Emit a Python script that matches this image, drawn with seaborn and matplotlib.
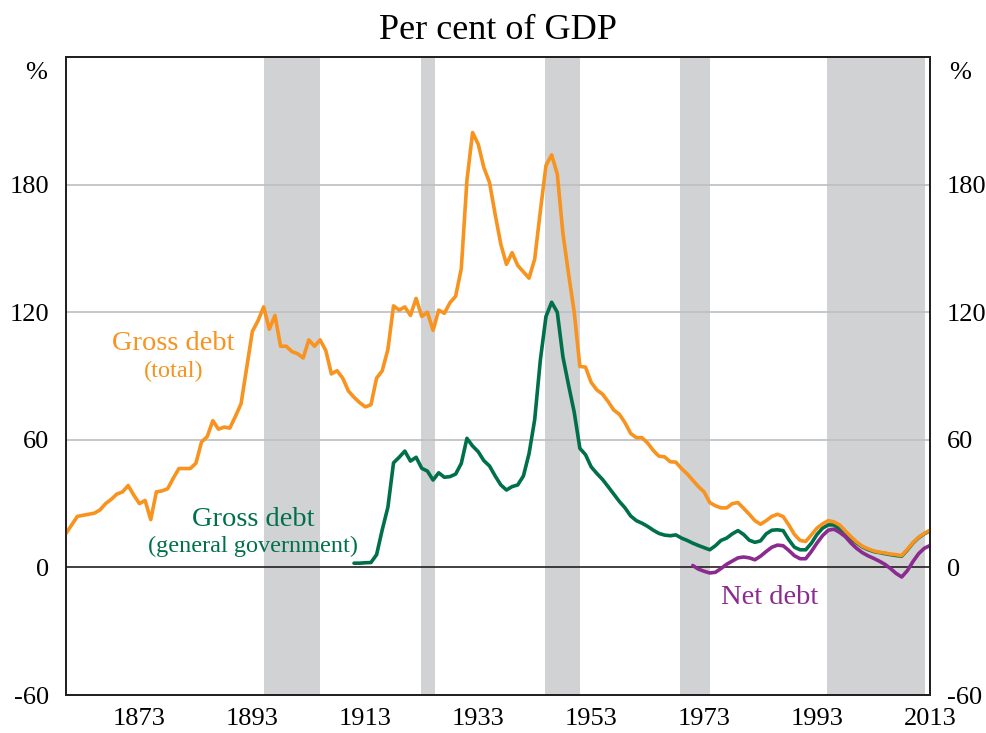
import numpy as np
import pandas as pd
import seaborn as sns
import matplotlib.pyplot as plt
from matplotlib.ticker import FixedLocator

# gross debt (total), per cent of GDP, 1860-2013
years_total = list(range(1860, 2014))
gross_total = [
    16, 20, 24, 24.5, 25, 25.5, 27, 30, 32, 34.5,
    35.5, 38.5, 34, 30, 31.5, 22.5, 35.5, 36, 37, 42,
    46.5, 46.5, 46.5, 49, 59, 61.5, 69, 65, 66, 65.5,
    71, 77, 94, 111, 116, 122.5, 112, 118.5, 104, 104,
    101.5, 100.5, 98.5, 107, 104, 107, 102, 91, 92.5, 89,
    83, 80, 77.5, 75.5, 76.5, 89, 92.5, 102.5, 123, 121,
    122.5, 118.5, 126.5, 118, 120, 111.5, 121, 119.5, 124.5, 127.5,
    140.5, 182, 204.5, 199, 188, 181, 166, 152, 142.5, 148,
    142, 139, 136, 145, 167.5, 189, 194, 185, 157, 138,
    120, 94.5, 94.2, 87, 83.5, 81.5, 78, 74, 72, 68,
    63, 61, 61, 58.5, 55, 52.3, 52, 49.7, 49.5, 46.5,
    44, 41, 38, 35.5, 30.5, 29, 28, 28, 30, 30.5,
    27.8, 25, 22, 20.3, 22, 24, 25, 23.9, 20, 15.5,
    12.7, 12.2, 15.3, 18.5, 20.5, 22, 21.4, 20, 17.2, 14.5,
    12, 10, 8.8, 7.8, 7.2, 6.8, 6.3, 6, 5.6, 8.5,
    11.7, 14.2, 16, 17.5,
]

# gross debt (general government), 1911-2013
years_gen = list(range(1911, 2014))
gross_gen = [
    2, 2, 2.2, 2.3, 6, 17.7, 28.3, 49.2, 51.8,
    54.7, 50, 51.8, 46.6, 45.3, 41.1, 44.5, 42.4, 42.7, 43.9,
    48.9, 60.7, 57.1, 54.4, 50.2, 47.7, 43, 38.8, 36.4, 38,
    38.8, 43, 53.5, 69.5, 97.5, 118, 124.7, 120, 99, 85.7,
    73, 56, 53, 47.3, 44.2, 41.4, 38, 34.5, 31, 28,
    24.2, 22, 20.8, 19.3, 17.5, 16, 15.2, 14.9, 15.3, 13.8,
    12.7, 11.4, 10.3, 9.3, 8.3, 10.2, 12.7, 13.8, 15.8, 17.3,
    15.5, 12.8, 11.8, 12.5, 15.8, 17.5, 17.7, 17.3, 13, 9.5,
    8.3, 8.3, 11.4, 15.5, 18.5, 20, 20, 18, 16.5, 13.5,
    11.5, 9.7, 8.4, 7.5, 7, 6.5, 6, 5.6, 5.3, 8.2,
    11.5, 14, 15.8, 17.2,
]

# net debt, 1971-2013
years_net = list(range(1971, 2014))
net_debt = [
    0.9, -0.8, -1.8, -2.6, -2.3, -0.5, 1.5, 3, 4.5,
    4.9, 4.5, 3.6, 5.3, 7.5, 9.5, 10.5, 10.2, 8, 5.5,
    4.1, 4.1, 7.5, 11.5, 15, 17.5, 18, 16.5, 14.5, 11.5,
    9, 7, 5.5, 4.3, 3, 1.5, -0.5, -2.8, -4.5, -1.5,
    2.8, 6.5, 9, 10.3,
]

# shaded periods
shade_start = [1895, 1922.9, 1944.8, 1968.7, 1994.7]
shade_end = [1905, 1925.4, 1951.0, 1974.0, 2012.1]

orange = "#F7931E"
green = "#00704A"
purple = "#8B2A8F"

sns.set_style("white")
plt.rcParams["font.family"] = ["Liberation Serif", "DejaVu Serif"]
plt.rcParams["axes.unicode_minus"] = False
plt.rcParams["text.color"] = "black"
plt.rcParams["xtick.labelcolor"] = "black"
plt.rcParams["ytick.labelcolor"] = "black"

fig = plt.figure(figsize=(9.87, 7.33), dpi=100)
ax = fig.add_axes([0.0669, 0.0518, 0.8753, 0.8704])

for s, e in zip(shade_start, shade_end):
    ax.axvspan(s, e, color="#D1D2D4", lw=0, zorder=0)

for yv in [60, 120, 180]:
    ax.axhline(yv, color="#BCBEC0", lw=1.2, zorder=1)
ax.axhline(0, color="#231F20", lw=1.2, zorder=2)

df_t = pd.DataFrame({"year": years_total, "val": gross_total})
df_g = pd.DataFrame({"year": years_gen, "val": gross_gen})
df_n = pd.DataFrame({"year": years_net, "val": net_debt})
sns.lineplot(data=df_t, x="year", y="val", color=orange, lw=2.6, ax=ax, zorder=4)
sns.lineplot(data=df_g, x="year", y="val", color=green, lw=2.6, ax=ax, zorder=3)
sns.lineplot(data=df_n, x="year", y="val", color=purple, lw=2.6, ax=ax, zorder=3)

ax.set_xlim(1860, 2013)
ax.set_ylim(-60, 240)
ax.set_xlabel("")
ax.set_ylabel("")

ax.xaxis.set_major_locator(FixedLocator([1873, 1893, 1913, 1933, 1953, 1973, 1993, 2013]))
ax.xaxis.set_minor_locator(FixedLocator(list(range(1863, 2013, 5))))
ax.tick_params(axis="x", which="both", direction="in", length=8, width=1.2,
               color="#231F20", labelsize=19, pad=9)
ax.set_yticks([-60, 0, 60, 120, 180])
ax.tick_params(axis="y", length=0, labelsize=19, pad=12)

ax2 = ax.twinx()
ax2.set_ylim(-60, 240)
ax2.set_yticks([-60, 0, 60, 120, 180])
ax2.tick_params(axis="y", length=0, labelsize=19, pad=12)

for a in [ax, ax2]:
    for sp in a.spines.values():
        sp.set_color("#231F20")
        sp.set_linewidth(1.3)

ax.text(-0.035, 0.975, "%", transform=ax.transAxes, fontsize=19, ha="center", va="center")
ax.text(1.035, 0.975, "%", transform=ax.transAxes, fontsize=19, ha="center", va="center")

fig.text(0.505, 0.958, "Per cent of GDP", fontsize=26, ha="center", va="center")

ax.text(1879.0, 105.3, "Gross debt", color=orange, fontsize=20.5, ha="center", va="center")
ax.text(1879.0, 92.2, "(total)", color=orange, fontsize=17.5, ha="center", va="center")
ax.text(1893.2, 22.4, "Gross debt", color=green, fontsize=20.5, ha="center", va="center")
ax.text(1893.2, 9.7, "(general government)", color=green, fontsize=17.5, ha="center", va="center")
ax.text(1984.65, -14.2, "Net debt", color=purple, fontsize=20.5, ha="center", va="center")

fig.savefig("out.png", dpi=100)
